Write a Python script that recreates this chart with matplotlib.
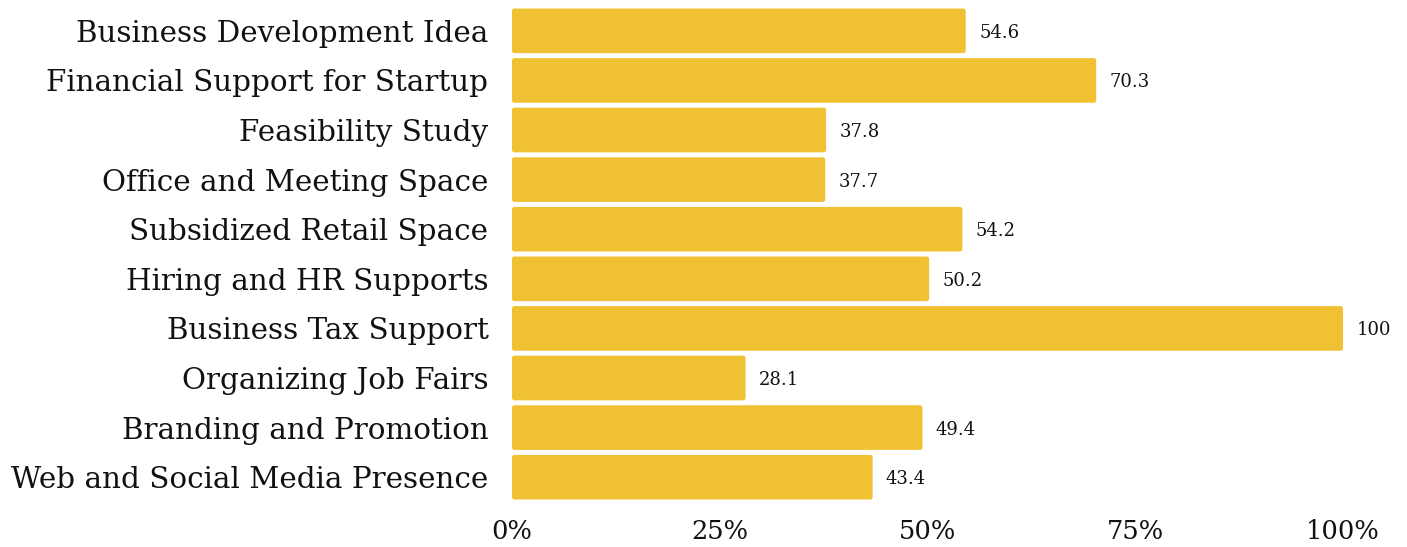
import matplotlib.pyplot as plt
from matplotlib.patches import FancyBboxPatch

categories = [
    "Business Development Idea",
    "Financial Support for Startup",
    "Feasibility Study",
    "Office and Meeting Space",
    "Subsidized Retail Space",
    "Hiring and HR Supports",
    "Business Tax Support",
    "Organizing Job Fairs",
    "Branding and Promotion",
    "Web and Social Media Presence",
]
values = [54.6, 70.3, 37.8, 37.7, 54.2, 50.2, 100, 28.1, 49.4, 43.4]
xticks = [0, 25, 50, 75, 100]
xtick_labels = ["0%", "25%", "50%", "75%", "100%"]

BAR_COLOR = "#F0C233"
plt.rcParams["font.family"] = ["DejaVu Serif"]

fig = plt.figure(figsize=(14.07, 5.47), dpi=100)
ax = fig.add_axes([0.3639, 0.0823, 0.5906, 0.9067])

bar_h = 0.9
for i, v in enumerate(values):
    # bar with slightly rounded corners
    patch = FancyBboxPatch((0, i - bar_h / 2), v, bar_h,
                           boxstyle="round,pad=0,rounding_size=0.3",
                           mutation_aspect=0.167,
                           facecolor=BAR_COLOR, edgecolor="none")
    ax.add_patch(patch)
    ax.text(v + 1.6, i, f"{v:g}", va="center_baseline", ha="left",
            fontsize=13, color="#111111")

ax.set_xlim(0, 100)
ax.set_ylim(len(values) - 0.5, -0.5)
ax.set_yticks(range(len(values)))
ax.set_yticklabels(categories, fontsize=21.2, color="#111111")
ax.set_xticks(xticks)
ax.set_xticklabels(xtick_labels, fontsize=18.5, color="#111111")
ax.tick_params(axis="both", length=0)
ax.tick_params(axis="y", pad=17)
ax.tick_params(axis="x", pad=12)
for s in ax.spines.values():
    s.set_visible(False)

fig.savefig("out.png", dpi=100)
